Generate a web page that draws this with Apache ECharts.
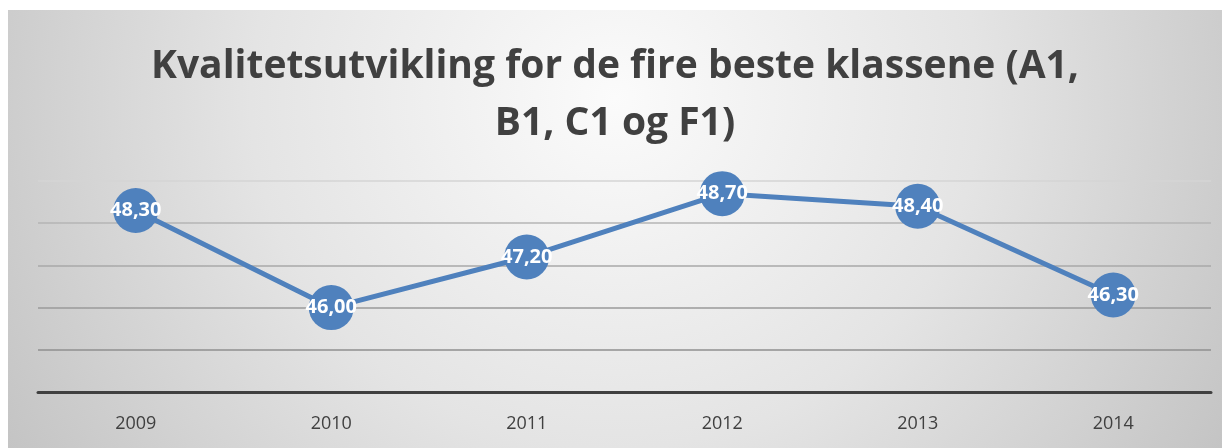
<!DOCTYPE html>
<html>
<head>
<meta charset="utf-8">
<script src="https://cdn.jsdelivr.net/npm/echarts@6/dist/echarts.min.js"></script>
<style>
  html, body { margin: 0; padding: 0; background: #fff; }
  #chart {
    position: absolute; left: 8px; top: 10px; width: 1214px; height: 438px;
    background: radial-gradient(ellipse 60% 160% at 50% 20%, #fbfbfb 0%, #e4e4e4 50%, #c2c2c2 100%);
  }
</style>
</head>
<body>
<div id="chart"></div>
<script>
const years = ['2009', '2010', '2011', '2012', '2013', '2014'];
const quality = [48.3, 46.0, 47.2, 48.7, 48.4, 46.3];
const titleText = 'Kvalitetsutvikling for de fire beste klassene (A1,\nB1, C1 og F1)';

const myChart = echarts.init(document.getElementById('chart'));
const option = {
  backgroundColor: 'transparent',
  title: {
    text: titleText,
    left: 'center',
    top: 23,
    textStyle: {
      fontFamily: 'Open Sans',
      fontSize: 39,
      fontWeight: 'bold',
      color: '#404040',
      lineHeight: 57,
    },
  },
  grid: {
    left: 30,
    right: 11,
    top: 171,
    bottom: 56,
  },
  xAxis: {
    type: 'category',
    data: years,
    axisLine: {
      lineStyle: { color: '#404040', width: 3 },
    },
    axisTick: { show: false },
    axisLabel: {
      color: '#404040',
      fontFamily: 'Open Sans',
      fontSize: 18,
      margin: 23,
    },
  },
  yAxis: {
    type: 'value',
    min: 44,
    max: 49,
    interval: 1,
    axisLabel: { show: false },
    axisLine: { show: false },
    axisTick: { show: false },
    splitLine: {
      lineStyle: {
        color: ['#8a8a8a', '#8f8f8f', '#9a9a9a', '#a8a8a8', '#b4b4b4', '#d4d4d4'],
        width: 1.5,
      },
    },
  },
  series: [
    {
      type: 'line',
      data: quality,
      symbol: 'circle',
      symbolSize: 45,
      lineStyle: { color: '#4f81bd', width: 5 },
      itemStyle: { color: '#4f81bd' },
      label: {
        show: true,
        position: 'inside',
        color: '#fff',
        fontFamily: 'Open Sans',
        fontWeight: 'bold',
        fontSize: 20,
        formatter: (p) => p.value.toFixed(2).replace('.', ','),
      },
      z: 3,
    },
  ],
};
myChart.setOption(option);
</script>
</body>
</html>
